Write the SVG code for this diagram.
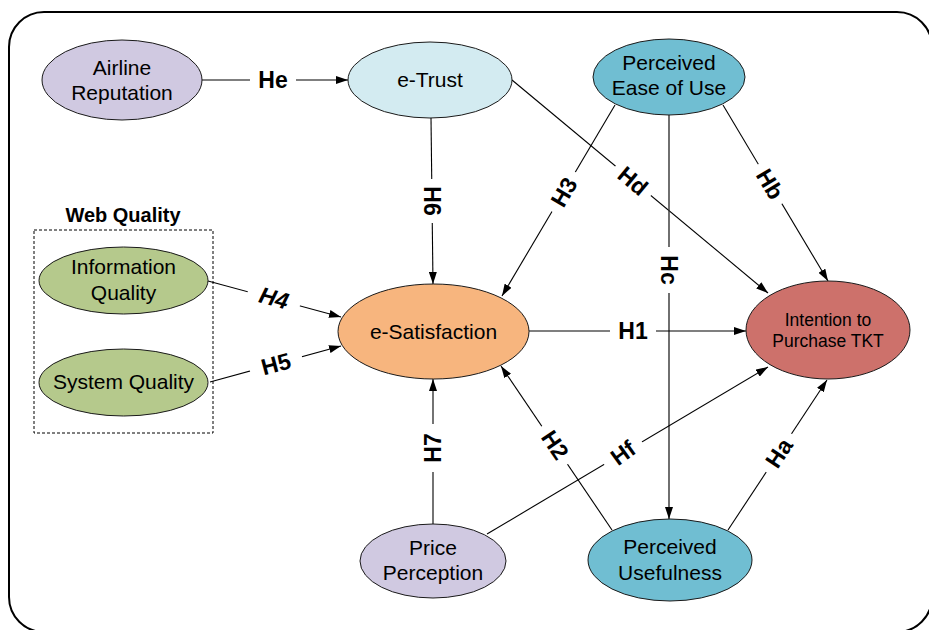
<svg xmlns="http://www.w3.org/2000/svg" width="929" height="630" viewBox="0 0 929 630">
<style>
.node{stroke:#1a1a1a;stroke-width:1}
.nt{font-family:"Liberation Sans",Arial,sans-serif;font-size:21px;fill:#000;text-anchor:middle}
.nts{font-family:"Liberation Sans",Arial,sans-serif;font-size:17.5px;fill:#000;text-anchor:middle}
.ln{stroke:#000;stroke-width:1.1;fill:none;marker-end:url(#arr)}
.lbl{font-family:"Liberation Sans",Arial,sans-serif;font-size:23px;font-weight:bold;fill:#000;text-anchor:middle}
.gap{fill:#fff}
.lav{fill:#d0c9e1}.tru{fill:#d3ebf1}.blu{fill:#70bed2}.grn{fill:#b5c98c}.sat{fill:#f7b57e}.red{fill:#cd716b}
</style>
<defs>
<marker id="arr" viewBox="0 0 12 8" refX="12" refY="4" markerWidth="12" markerHeight="8" markerUnits="userSpaceOnUse" orient="auto">
<path d="M0,0 L12,4 L0,8 Z" fill="#000"/>
</marker>
</defs>
<rect x="0" y="0" width="929" height="630" fill="#fff"/>
<rect id="frame" x="9" y="12" width="923" height="620" rx="35" ry="35" fill="none" stroke="#000" stroke-width="2"/>

<g id="webquality">
<rect x="34" y="230" width="179" height="203" fill="none" stroke="#000" stroke-width="1" stroke-dasharray="3 2"/>
<text x="123" y="222" font-family="Liberation Sans, Arial, sans-serif" font-size="20" font-weight="bold" text-anchor="middle">Web Quality</text>
</g>

<g id="connectors">
<line class="ln" x1="202" y1="80" x2="348" y2="80"/>
<line class="ln" x1="431" y1="118" x2="433" y2="284"/>
<line class="ln" x1="615" y1="105" x2="502" y2="296"/>
<line class="ln" x1="512" y1="80" x2="768" y2="293"/>
<line class="ln" x1="723" y1="105" x2="828" y2="281"/>
<line class="ln" x1="669" y1="115" x2="669" y2="519" style="stroke:#333;stroke-width:1.4"/>
<line class="ln" x1="529" y1="331" x2="746" y2="331"/>
<line class="ln" x1="208" y1="281" x2="341" y2="317"/>
<line class="ln" x1="210" y1="382" x2="341" y2="346"/>
<line class="ln" x1="433" y1="525" x2="433" y2="379"/>
<line class="ln" x1="612" y1="530" x2="501" y2="366"/>
<line class="ln" x1="487" y1="534" x2="768" y2="367"/>
<line class="ln" x1="728" y1="530" x2="827" y2="380"/>
</g>

<g id="labels">
<g transform="translate(273,80)"><rect class="gap" x="-23" y="-3" width="46" height="6"/><text class="lbl" y="8">He</text></g>
<g transform="translate(432,201) rotate(90)"><rect class="gap" x="-22" y="-3" width="44" height="6"/><text class="lbl" y="8">H6</text></g>
<g transform="translate(564,192) rotate(-59.5)"><rect class="gap" x="-23" y="-3" width="46" height="6"/><text class="lbl" y="8">H3</text></g>
<g transform="translate(633,181) rotate(39.8)"><rect class="gap" x="-23" y="-3" width="46" height="6"/><text class="lbl" y="8">Hd</text></g>
<g transform="translate(770,184) rotate(59.2)"><rect class="gap" x="-23" y="-3" width="46" height="6"/><text class="lbl" y="8">Hb</text></g>
<g transform="translate(669,270) rotate(90)"><rect class="gap" x="-23" y="-3" width="46" height="6"/><text class="lbl" y="8">Hc</text></g>
<g transform="translate(633,331)"><rect class="gap" x="-23" y="-3" width="46" height="6"/><text class="lbl" y="8">H1</text></g>
<g transform="translate(274,298) rotate(15)"><rect class="gap" x="-27" y="-3" width="54" height="6"/><text class="lbl" y="8" font-style="italic">H4</text></g>
<g transform="translate(276,364) rotate(-15)"><rect class="gap" x="-27" y="-3" width="54" height="6"/><text class="lbl" y="8">H5</text></g>
<g transform="translate(433,448) rotate(-90)"><rect class="gap" x="-24" y="-3" width="48" height="6"/><text class="lbl" y="8">H7</text></g>
<g transform="translate(555,445) rotate(55.9)"><rect class="gap" x="-23" y="-3" width="46" height="6"/><text class="lbl" y="8">H2</text></g>
<g transform="translate(623,453) rotate(-36)"><rect class="gap" x="-22" y="-6" width="44" height="12"/><text class="lbl" y="8">Hf</text></g>
<g transform="translate(779,453) rotate(-56.4)"><rect class="gap" x="-23" y="-3" width="46" height="6"/><text class="lbl" y="8">Ha</text></g>
</g>

<g id="airline"><ellipse class="node lav" cx="122" cy="80" rx="80" ry="40"/><text class="nt" x="122" y="75">Airline</text><text class="nt" x="122" y="100">Reputation</text></g>
<g id="etrust"><ellipse class="node tru" cx="430" cy="80" rx="82" ry="38"/><text class="nt" x="430" y="87">e-Trust</text></g>
<g id="peou"><ellipse class="node blu" cx="669" cy="77" rx="76" ry="38"/><text class="nt" x="669" y="70">Perceived</text><text class="nt" x="669" y="95">Ease of Use</text></g>
<g id="infoq"><ellipse class="node grn" cx="123.5" cy="280.5" rx="84.5" ry="33.5"/><text class="nt" x="123.5" y="274">Information</text><text class="nt" x="123.5" y="300">Quality</text></g>
<g id="sysq"><ellipse class="node grn" cx="123.5" cy="382.5" rx="84.5" ry="33.5"/><text class="nt" x="123.5" y="389">System Quality</text></g>
<g id="esat"><ellipse class="node sat" cx="433.5" cy="331.5" rx="95.5" ry="47.5"/><text class="nt" x="433.5" y="339">e-Satisfaction</text></g>
<g id="intention"><ellipse class="node red" cx="828" cy="330" rx="82" ry="49"/><text class="nts" x="828" y="326">Intention to</text><text class="nts" x="828" y="347">Purchase TKT</text></g>
<g id="price"><ellipse class="node lav" cx="433" cy="561" rx="73" ry="37"/><text class="nt" x="433" y="555">Price</text><text class="nt" x="433" y="580">Perception</text></g>
<g id="pu"><ellipse class="node blu" cx="670" cy="560" rx="82" ry="41"/><text class="nt" x="670" y="554">Perceived</text><text class="nt" x="670" y="580">Usefulness</text></g>
</svg>
